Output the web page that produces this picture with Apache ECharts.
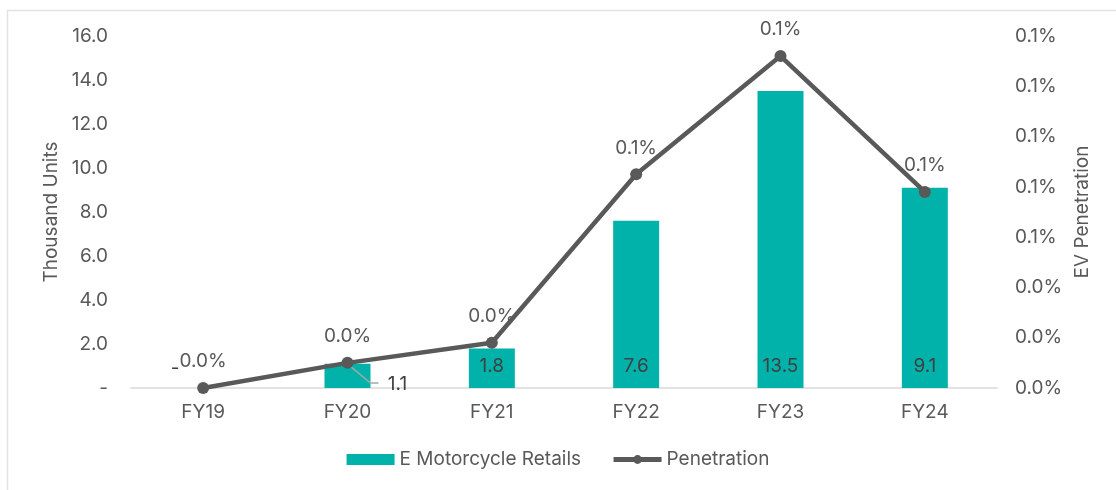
<!DOCTYPE html>
<html>
<head>
<meta charset="utf-8">
<script src="https://cdn.jsdelivr.net/npm/echarts@6/dist/echarts.min.js"></script>
<style>
  html, body { margin: 0; padding: 0; background: #fff; }
  #chart { width: 1116px; height: 490px; }
</style>
</head>
<body>
<div id="chart"></div>
<script>
// data
var years = ['FY19', 'FY20', 'FY21', 'FY22', 'FY23', 'FY24'];
var retails = [0, 1.1, 1.8, 7.6, 13.5, 9.1];               // thousand units
var penetration = [0, 0.010, 0.018, 0.085, 0.132, 0.078];  // percent

var textColor = '#595959';
var font = 'Inter';
var fs = 19;

function pct(v) {
  return (Math.round(v * 10 + 1e-9) / 10).toFixed(1) + '%';
}

var chart = echarts.init(document.getElementById('chart'));

var barData = retails.map(function (v, i) {
  var item = { value: v };
  if (i === 0) {
    item.label = { position: 'top', offset: [-28, 2], formatter: '-' };
  }
  if (i === 1) {
    // small value gets pushed out to the right with a leader line
    item.label = { position: 'insideBottom', offset: [50, 18] };
  }
  return item;
});

var option = {
  animation: false,
  textStyle: { fontFamily: font },
  graphic: [
    { type: 'line', shape: { x1: 7.5, y1: 10, x2: 7.5, y2: 490 }, style: { stroke: '#e3e3e3', lineWidth: 1.5 } },
    { type: 'line', shape: { x1: 7, y1: 10.5, x2: 1116, y2: 10.5 }, style: { stroke: '#e3e3e3', lineWidth: 1.5 } }
  ],
  grid: { left: 131, right: 119, top: 36, bottom: 102 },
  legend: {
    bottom: 16,
    left: 'center',
    itemGap: 30,
    itemWidth: 48,
    itemHeight: 11,
    textStyle: { color: textColor, fontSize: fs, fontFamily: font },
    data: [
      { name: 'E Motorcycle Retails', icon: 'rect' },
      { name: 'Penetration', lineStyle: { width: 5 } }
    ]
  },
  xAxis: {
    type: 'category',
    data: years,
    axisLine: { lineStyle: { color: '#d9d9d9', width: 1.5 } },
    axisTick: { show: false },
    axisLabel: { color: textColor, fontSize: fs, margin: 15 }
  },
  yAxis: [
    {
      type: 'value',
      min: 0,
      max: 16,
      interval: 2,
      name: 'Thousand Units',
      nameLocation: 'middle',
      nameGap: 70,
      nameTextStyle: { color: textColor, fontSize: fs },
      splitLine: { show: false },
      axisLine: { show: false },
      axisLabel: {
        color: textColor, fontSize: fs, margin: 23,
        formatter: function (v) { return v === 0 ? '-' : v.toFixed(1); }
      }
    },
    {
      type: 'value',
      min: 0,
      max: 0.14,
      interval: 0.02,
      name: 'EV Penetration',
      nameLocation: 'middle',
      nameGap: 76,
      nameTextStyle: { color: textColor, fontSize: fs },
      splitLine: { show: false },
      axisLine: { show: false },
      axisLabel: {
        color: textColor, fontSize: fs, margin: 18,
        formatter: pct
      }
    }
  ],
  series: [
    {
      name: 'E Motorcycle Retails',
      type: 'bar',
      data: barData,
      barWidth: 46,
      itemStyle: { color: '#00b2a9' },
      label: {
        show: true,
        position: 'insideBottom',
        distance: 12,
        color: '#404040',
        fontSize: fs,
        formatter: function (p) { return p.value.toFixed(1); }
      },
      z: 1
    },
    {
      name: 'Penetration',
      type: 'line',
      yAxisIndex: 1,
      data: penetration,
      symbol: 'circle',
      symbolSize: 12,
      lineStyle: { color: '#595959', width: 4.5 },
      itemStyle: { color: '#595959' },
      label: {
        show: true,
        position: 'top',
        distance: 11,
        color: textColor,
        fontSize: fs,
        formatter: function (p) { return pct(p.value); }
      },
      z: 3
    }
  ]
};

chart.setOption(option);

// leader line for the FY20 bar label, placed from the axis scales
var top1 = chart.convertToPixel({ seriesIndex: 0 }, [1, retails[1]]);
var base = chart.convertToPixel({ seriesIndex: 0 }, [1, 0]);
chart.setOption({
  graphic: option.graphic.concat([{
    type: 'polyline',
    z: 2,
    shape: { points: [[top1[0], top1[1]], [top1[0] + 23, base[1] - 5], [top1[0] + 31, base[1] - 5]] },
    style: { stroke: '#a6a6a6', lineWidth: 1.5, fill: null }
  }])
});
</script>
</body>
</html>
